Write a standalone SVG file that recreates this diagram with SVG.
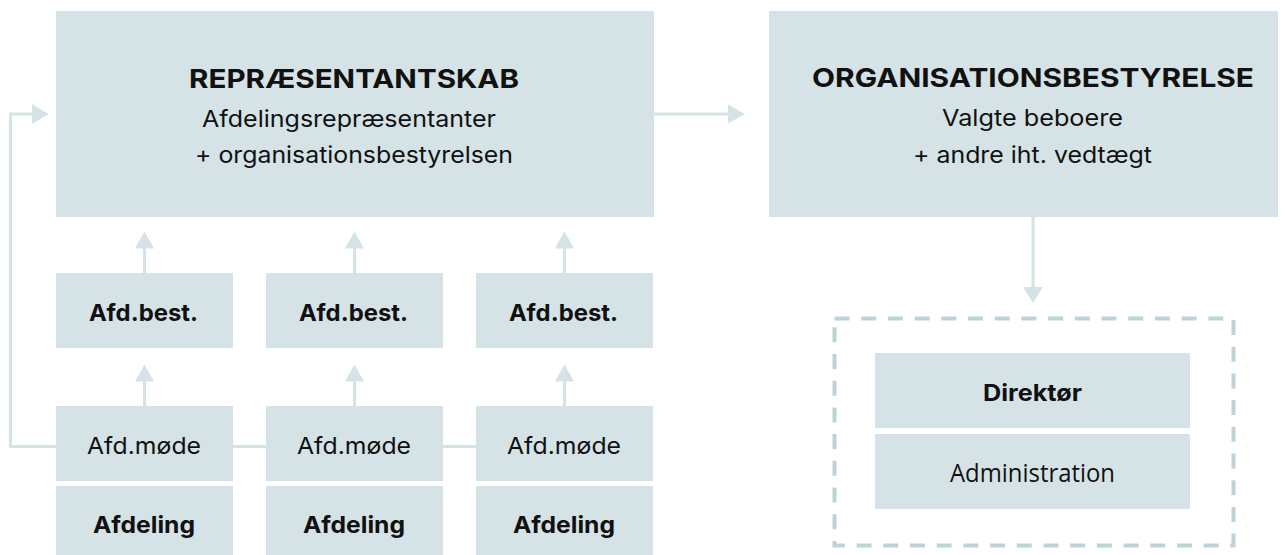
<svg xmlns="http://www.w3.org/2000/svg" width="1285" height="555" viewBox="0 0 1285 555">
<style>
.box{fill:#d5e3e6}
.ln{fill:none;stroke:#d5e3e6;stroke-width:3}
.hd{fill:#d5e3e6}
.t{font-family:Inter,"Liberation Sans",sans-serif;fill:#111;text-anchor:middle}
.b{font-weight:700}
.title{font-size:26px;font-weight:700}
.sub{font-size:23px}
.sm{font-size:23.5px}
.adm{font-family:"Open Sans","Noto Sans",sans-serif;font-weight:400;font-size:25px;fill:#111;text-anchor:middle}
</style>
<rect width="1285" height="555" fill="#fff"/>
<g id="connectors">
<path class="ln" d="M564 446.5 H10.5 V114 H33"/>
<polygon class="hd" points="32,104 48.5,114 32,124"/>
<path class="ln" d="M654 114 H729"/>
<polygon class="hd" points="728,104.5 745,114 728,123.5"/>
<path class="ln" d="M1033 216 V288"/>
<polygon class="hd" points="1023,287 1043,287 1033,303"/>
<path class="ln" d="M144.5 273 V247 M354.5 273 V247 M564.5 273 V247 M144.5 406 V380 M354.5 406 V380 M564.5 406 V380"/>
<polygon class="hd" points="135,248.5 154,248.5 144.5,231.5"/>
<polygon class="hd" points="345,248.5 364,248.5 354.5,231.5"/>
<polygon class="hd" points="555,248.5 574,248.5 564.5,231.5"/>
<polygon class="hd" points="135,381.5 154,381.5 144.5,364.5"/>
<polygon class="hd" points="345,381.5 364,381.5 354.5,364.5"/>
<polygon class="hd" points="555,381.5 574,381.5 564.5,364.5"/>
</g>
<g id="repraesentantskab">
<rect class="box" x="56" y="11" width="598" height="206"/>
<text class="t title" x="354" y="88" textLength="330" lengthAdjust="spacingAndGlyphs">REPRÆSENTANTSKAB</text>
<text class="t sub" x="349" y="126.5" textLength="294" lengthAdjust="spacingAndGlyphs">Afdelingsrepræsentanter</text>
<text class="t sub" x="354" y="163" textLength="318" lengthAdjust="spacingAndGlyphs">+ organisationsbestyrelsen</text>
</g>
<g id="organisationsbestyrelse">
<rect class="box" x="769" y="11" width="509" height="206"/>
<text class="t title" x="1033" y="87" textLength="442" lengthAdjust="spacingAndGlyphs">ORGANISATIONSBESTYRELSE</text>
<text class="t sub" x="1032.5" y="125.5" textLength="181" lengthAdjust="spacingAndGlyphs">Valgte beboere</text>
<text class="t sub" x="1032.5" y="162.5" textLength="239" lengthAdjust="spacingAndGlyphs">+ andre iht. vedtægt</text>
</g>
<g id="afdbest1"><rect class="box" x="56" y="273" width="177" height="75"/><text class="t b sm" x="143.5" y="320.5" textLength="109" lengthAdjust="spacingAndGlyphs">Afd.best.</text></g>
<g id="afdbest2"><rect class="box" x="266" y="273" width="177" height="75"/><text class="t b sm" x="353.5" y="320.5" textLength="109" lengthAdjust="spacingAndGlyphs">Afd.best.</text></g>
<g id="afdbest3"><rect class="box" x="476" y="273" width="177" height="75"/><text class="t b sm" x="563.5" y="320.5" textLength="109" lengthAdjust="spacingAndGlyphs">Afd.best.</text></g>
<g id="afdmode1"><rect class="box" x="56" y="406" width="177" height="75"/><text class="t sm" x="144" y="453.5" textLength="114" lengthAdjust="spacingAndGlyphs">Afd.møde</text></g>
<g id="afdmode2"><rect class="box" x="266" y="406" width="177" height="75"/><text class="t sm" x="354" y="453.5" textLength="114" lengthAdjust="spacingAndGlyphs">Afd.møde</text></g>
<g id="afdmode3"><rect class="box" x="476" y="406" width="177" height="75"/><text class="t sm" x="564" y="453.5" textLength="114" lengthAdjust="spacingAndGlyphs">Afd.møde</text></g>
<g id="afdeling1"><rect class="box" x="56" y="486" width="177" height="69"/><text class="t b sm" x="144" y="533" textLength="102" lengthAdjust="spacingAndGlyphs">Afdeling</text></g>
<g id="afdeling2"><rect class="box" x="266" y="486" width="177" height="69"/><text class="t b sm" x="354" y="533" textLength="102" lengthAdjust="spacingAndGlyphs">Afdeling</text></g>
<g id="afdeling3"><rect class="box" x="476" y="486" width="177" height="69"/><text class="t b sm" x="564" y="533" textLength="102" lengthAdjust="spacingAndGlyphs">Afdeling</text></g>
<g id="administration-group">
<rect x="834.5" y="318.5" width="399" height="227" fill="none" stroke="#bed3d7" stroke-width="4" stroke-dasharray="15 11.7"/>
</g>
<g id="direktoer"><rect class="box" x="875" y="353" width="315" height="75"/><text class="t b sm" x="1032.5" y="401" textLength="99" lengthAdjust="spacingAndGlyphs">Direktør</text></g>
<g id="administration"><rect class="box" x="875" y="434" width="315" height="75"/><text class="adm" x="1032.5" y="481.5" textLength="165" lengthAdjust="spacingAndGlyphs">Administration</text></g>
</svg>
